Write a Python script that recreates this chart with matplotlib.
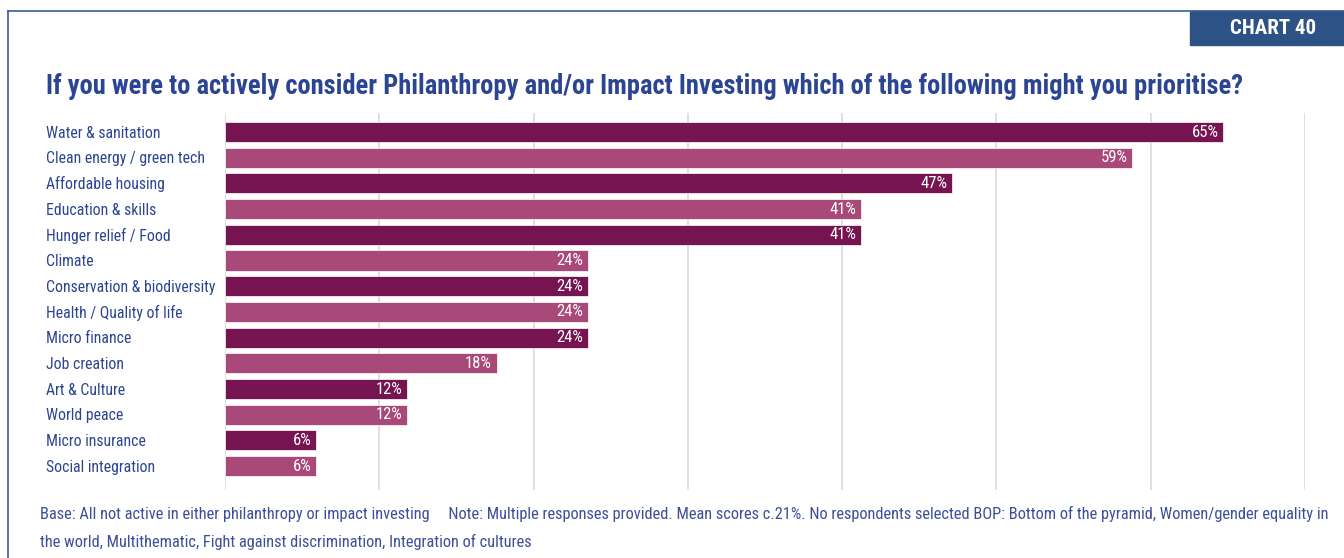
import numpy as np
import matplotlib
matplotlib.use('Agg')
import matplotlib.pyplot as plt
from matplotlib.patches import Rectangle
import matplotlib.transforms as mtransforms

plt.rcParams['font.family'] = ['Roboto Condensed', 'DejaVu Sans']

categories = ['Water & sanitation', 'Clean energy / green tech', 'Affordable housing',
              'Education & skills', 'Hunger relief / Food', 'Climate',
              'Conservation & biodiversity', 'Health / Quality of life', 'Micro finance',
              'Job creation', 'Art & Culture', 'World peace', 'Micro insurance',
              'Social integration']
values = [64.7, 58.8, 47.1, 41.2, 41.2, 23.5, 23.5, 23.5, 23.5, 17.6, 11.8, 11.8, 5.9, 5.9]
grid_ticks = [0, 10, 20, 30, 40, 50, 60, 70]

title = 'If you were to actively consider Philanthropy and/or Impact Investing which of the following might you prioritise?'
foot_lines = ['Base: All not active in either philanthropy or impact investing     '
              'Note: Multiple responses provided. Mean scores c.21%. No respondents selected BOP: '
              'Bottom of the pyramid, Women/gender equality in',
              'the world, Multithematic, Fight against discrimination, Integration of cultures']

DARK = '#761451'
LIGHT = '#a8497a'
BLUE = '#2b4592'
W, H = 1344, 558

fig = plt.figure(figsize=(W / 100, H / 100), dpi=100)

# frame and chart tag
fig.add_artist(plt.Line2D([8 / W, 8 / W], [0, 1 - 11 / H], color='#3a5d96', lw=1.2))
fig.add_artist(plt.Line2D([8 / W, 1], [1 - 11 / H, 1 - 11 / H], color='#3a5d96', lw=1.2))
fig.add_artist(Rectangle((1190 / W, 1 - 45 / H), (W - 1190) / W, 34 / H,
                         color='#2d5285', transform=fig.transFigure))
fig.text(1316 / W, 1 - 29 / H, 'CHART 40', color='white', fontsize=15, fontweight='bold',
         ha='right', va='center')

fig.text(46 / W, 1 - 86 / H, title, color=BLUE, fontsize=19.1, fontweight='bold',
         ha='left', va='center')

ax = fig.add_axes([225 / W, (H - 490) / H, 1080 / W, 377 / H])
y = np.arange(len(categories))
colors = [DARK if i % 2 == 0 else LIGHT for i in y]
ax.barh(y, values, height=0.78, color=colors, edgecolor='white', linewidth=0.5, zorder=2)
ax.set_xlim(0, 70)
ax.set_ylim(13.93, -0.74)
ax.set_xticks(grid_ticks)
ax.set_yticks([])
ax.grid(axis='x', color='#d9d9d9', lw=1.2, zorder=0)
ax.tick_params(length=0, labelbottom=False)
for s in ax.spines.values():
    s.set_visible(False)

for yi, v in zip(y, values):
    ax.text(v - 0.3, yi, '%d%%' % round(v), color='white', fontsize=12,
            ha='right', va='center', zorder=3)

trans = mtransforms.blended_transform_factory(fig.transFigure, ax.transData)
for yi, c in zip(y, categories):
    ax.text(46 / W, yi + 0.04, c, transform=trans, color=BLUE, fontsize=11.3,
            ha='left', va='center', clip_on=False)

for i, line in enumerate(foot_lines):
    fig.text(40 / W, 1 - (514 + 28 * i) / H, line, color='#3d4f9a', fontsize=11.8,
             ha='left', va='center')

fig.savefig('out.png', dpi=100)
